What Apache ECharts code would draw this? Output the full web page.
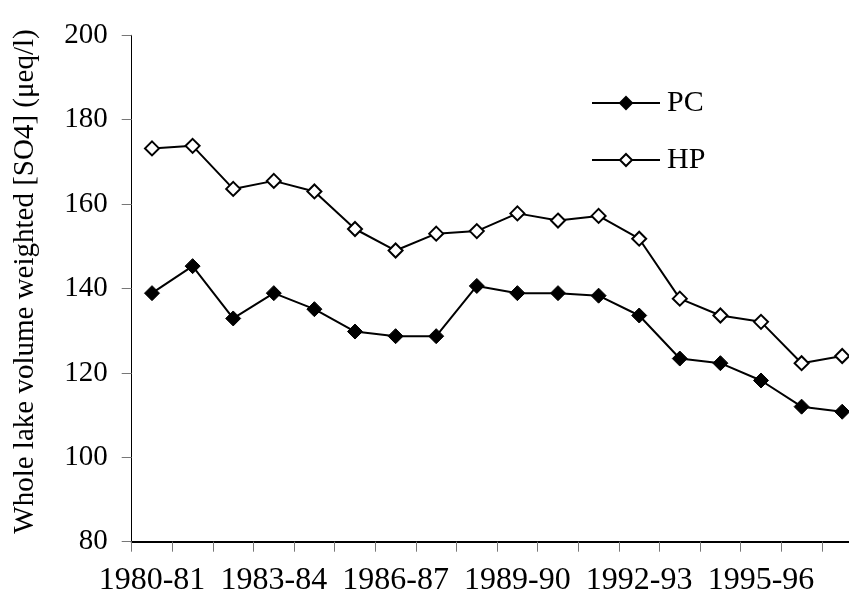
<!DOCTYPE html>
<html>
<head>
<meta charset="utf-8">
<script src="https://cdn.jsdelivr.net/npm/echarts@6/dist/echarts.min.js"></script>
<style>
  html, body { margin: 0; padding: 0; background: #fff; }
  #chart { width: 849px; height: 607px; }
</style>
</head>
<body>
<div id="chart"></div>
<script>
var years = ['1980-81', '1981-82', '1982-83', '1983-84', '1984-85', '1985-86',
             '1986-87', '1987-88', '1988-89', '1989-90', '1990-91', '1991-92',
             '1992-93', '1993-94', '1994-95', '1995-96', '1996-97', '1997-98'];
var pcValues = [138.9, 145.3, 132.9, 138.9, 135.1, 129.8, 128.7, 128.7, 140.6,
                138.9, 138.9, 138.3, 133.6, 123.4, 122.3, 118.2, 112.0, 110.8];
var hpValues = [173.2, 173.8, 163.6, 165.5, 163.0, 154.1, 149.0, 153.0, 153.6,
                157.8, 156.1, 157.2, 151.8, 137.6, 133.6, 132.1, 122.3, 124.0];
var yTicks = { min: 80, max: 200, step: 20 };

var serif = "'Liberation Serif', 'Times New Roman', 'DejaVu Serif', serif";

var option = {
    animation: false,
    backgroundColor: '#fff',
    grid: { left: 131.7, top: 35.3, bottom: 65.3, right: -13.5,
            containLabel: false, outerBoundsMode: 'none' },
    legend: {
        data: ['PC', 'HP'],
        orient: 'vertical',
        left: 586,
        top: 83,
        itemWidth: 68,
        itemHeight: 15,
        itemGap: 27,
        textStyle: { fontFamily: serif, fontSize: 30, color: '#000', padding: [0, 0, 0, 2] }
    },
    xAxis: {
        type: 'category',
        data: years,
        boundaryGap: true,
        axisLine: { lineStyle: { color: '#000', width: 2 } },
        axisTick: { show: true, interval: 0, length: 10, inside: false,
                    lineStyle: { color: '#777', width: 1 } },
        axisLabel: { interval: 2, margin: 23, color: '#000',
                     fontFamily: serif, fontSize: 32 },
        splitLine: { show: false }
    },
    yAxis: {
        type: 'value',
        min: yTicks.min,
        max: yTicks.max,
        interval: yTicks.step,
        name: 'Whole lake volume weighted [SO4] (μeq/l)',
        nameLocation: 'middle',
        nameRotate: 90,
        nameGap: 92,
        nameTextStyle: { fontFamily: serif, fontSize: 29, color: '#000',
                         padding: [0, 0, 0, 14] },
        axisLine: { show: true, lineStyle: { color: '#000', width: 1 } },
        axisTick: { show: true, length: 10, lineStyle: { color: '#777', width: 1 } },
        axisLabel: { margin: 24, color: '#000', fontFamily: serif, fontSize: 29 },
        splitLine: { show: false }
    },
    series: [
        {
            name: 'PC',
            type: 'line',
            data: pcValues,
            symbol: 'diamond',
            symbolSize: 15,
            lineStyle: { color: '#000', width: 2 },
            itemStyle: { color: '#000', borderColor: '#000', borderWidth: 1 }
        },
        {
            name: 'HP',
            type: 'line',
            data: hpValues,
            symbol: 'diamond',
            symbolSize: 14,
            lineStyle: { color: '#000', width: 2 },
            itemStyle: { color: '#fff', borderColor: '#000', borderWidth: 2 }
        }
    ]
};

var chart = echarts.init(document.getElementById('chart'));
chart.setOption(option);
</script>
</body>
</html>
